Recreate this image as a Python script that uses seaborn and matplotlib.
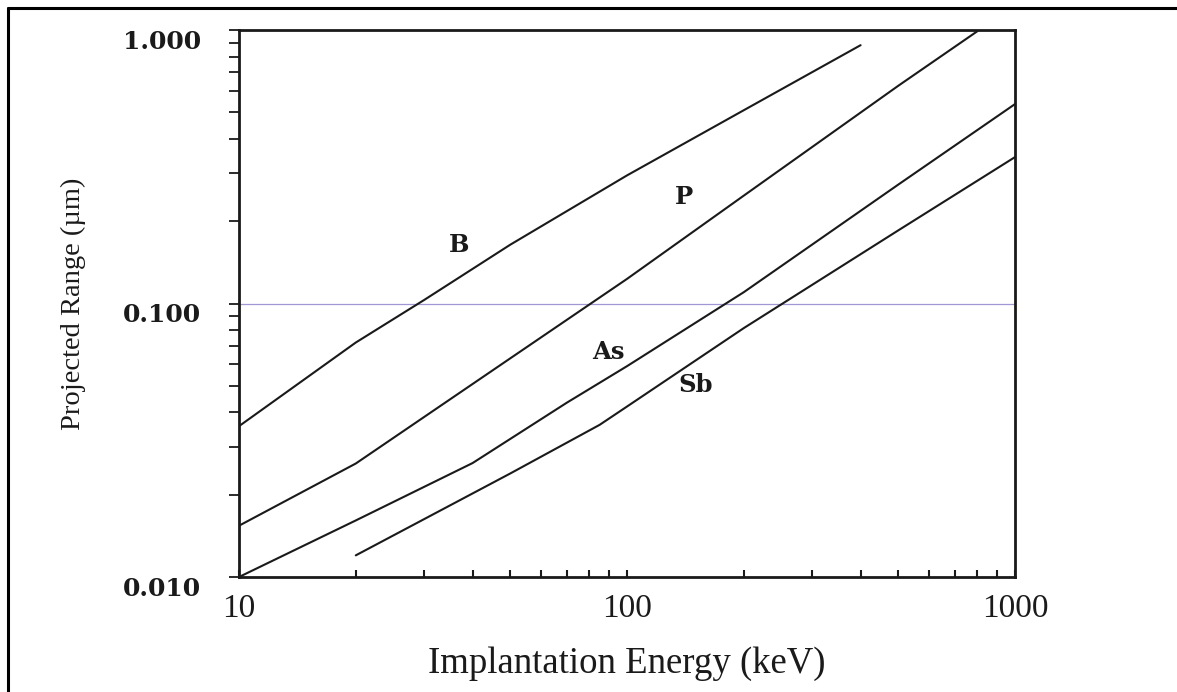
import pandas as pd
import matplotlib.pyplot as plt
import seaborn as sns
from matplotlib.ticker import FixedLocator, LogLocator, NullFormatter, FixedFormatter

# projected range of dopants in silicon
boron_energy = [10, 20, 30, 50, 100, 200, 400]
boron_range = [0.0356, 0.072, 0.103, 0.164, 0.294, 0.509, 0.88]

phos_energy = [10, 20, 50, 100, 200, 500, 800]
phos_range = [0.0154, 0.026, 0.063, 0.123, 0.248, 0.625, 0.99]

arsenic_energy = [10, 20, 40, 70, 100, 200, 500, 1000]
arsenic_range = [0.010, 0.0161, 0.0261, 0.0434, 0.059, 0.11, 0.272, 0.536]

antimony_energy = [20, 50, 85, 100, 200, 500, 1000]
antimony_range = [0.012, 0.0239, 0.036, 0.042, 0.0813, 0.185, 0.343]

ions = ["B", "P", "As", "Sb"]
label_energy = [37, 140, 89.6, 150]
label_range = [0.164, 0.245, 0.0665, 0.0504]

x_ticks = [10, 100, 1000]
x_tick_labels = ["10", "100", "1000"]
y_ticks = [0.01, 0.1, 1.0]
y_tick_labels = ["0.010", "0.100", "1.000"]

df = pd.concat([
    pd.DataFrame({"energy": boron_energy, "range": boron_range, "ion": "B"}),
    pd.DataFrame({"energy": phos_energy, "range": phos_range, "ion": "P"}),
    pd.DataFrame({"energy": arsenic_energy, "range": arsenic_range, "ion": "As"}),
    pd.DataFrame({"energy": antimony_energy, "range": antimony_range, "ion": "Sb"}),
], ignore_index=True)

sns.set_style("white")
plt.rcParams['font.family'] = ['Liberation Serif', 'DejaVu Serif']

fig = plt.figure(figsize=(11.77, 6.92), dpi=100)
ax = fig.add_axes([239 / 1177, 1 - 577 / 692, 776 / 1177, 547 / 692])

sns.lineplot(
    data=df,
    x="energy",
    y="range",
    hue="ion",
    palette={i: "#1a1a1a" for i in ions},
    estimator=None,
    sort=False,
    linewidth=1.5,
    legend=False,
    ax=ax
)

# faint scanner streak across the 0.1 level
ax.axhline(0.1, color="#8a7fc8", linewidth=0.9, alpha=0.8, zorder=0)

ax.set_xscale("log")
ax.set_yscale("log")
ax.set_xlim(10, 1000)
ax.set_ylim(0.01, 1.0)

ax.xaxis.set_major_locator(FixedLocator(x_ticks))
ax.xaxis.set_major_formatter(FixedFormatter(x_tick_labels))
ax.xaxis.set_minor_locator(LogLocator(base=10, subs=range(2, 10)))
ax.xaxis.set_minor_formatter(NullFormatter())
ax.yaxis.set_major_locator(FixedLocator(y_ticks))
ax.yaxis.set_major_formatter(FixedFormatter(y_tick_labels))
ax.yaxis.set_minor_locator(LogLocator(base=10, subs=range(2, 10)))
ax.yaxis.set_minor_formatter(NullFormatter())

ax.tick_params(axis="x", which="both", direction="in", length=5, width=1.5,
               bottom=True, top=False, labelsize=24, pad=12, colors="#1a1a1a")
ax.tick_params(axis="y", which="both", direction="out", length=7, width=1.3,
               left=True, right=False, pad=20, colors="#1a1a1a")
for lab in ax.get_yticklabels():
    lab.set_fontfamily("DejaVu Serif")
    lab.set_fontweight("bold")
    lab.set_fontsize(18)
    lab.set_va("top")

for side in ["left", "bottom", "right", "top"]:
    ax.spines[side].set_visible(True)
    ax.spines[side].set_color("#1a1a1a")
    ax.spines[side].set_linewidth(2)

ax.set_xlabel("Implantation Energy (keV)", fontsize=26.5, labelpad=16, color="#1a1a1a")
ax.set_ylabel("Projected Range (\u00b5m)", fontsize=20.5, labelpad=27, color="#1a1a1a")

for name, ex, ry in zip(ions, label_energy, label_range):
    ax.text(ex, ry, name, ha="center", va="center", fontsize=17.5,
            fontweight="bold", family="DejaVu Serif", color="#1a1a1a")

# border of the scanned page
fig.add_artist(plt.Line2D([8 / 1177, 8 / 1177], [0, 1 - 8 / 692],
                          transform=fig.transFigure, color="black", linewidth=2.2))
fig.add_artist(plt.Line2D([8 / 1177, 1], [1 - 8 / 692, 1 - 8 / 692],
                          transform=fig.transFigure, color="black", linewidth=2.2))

fig.savefig("out.png", dpi=100)
